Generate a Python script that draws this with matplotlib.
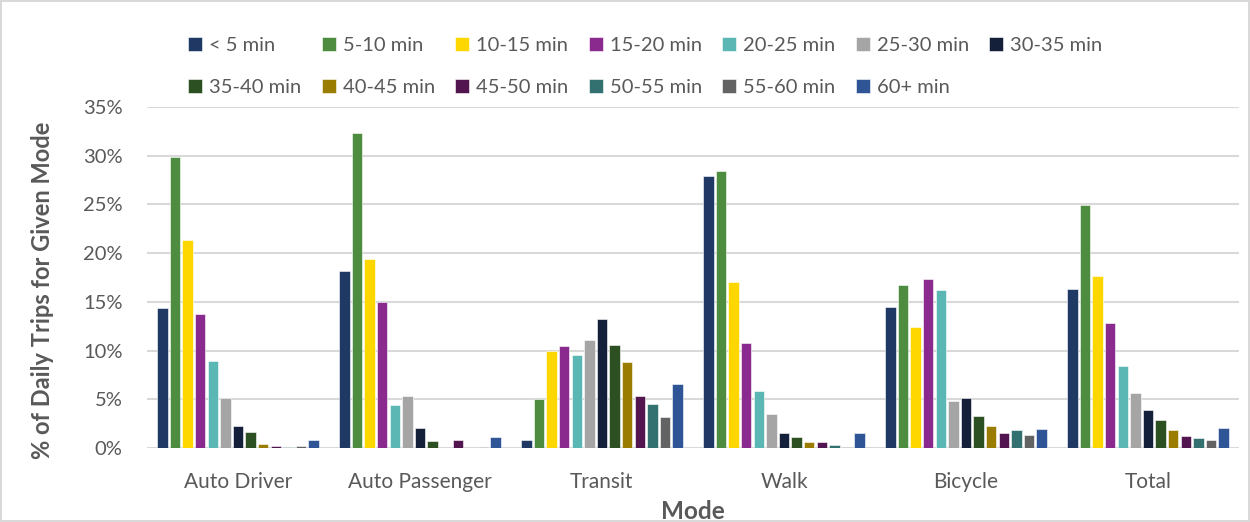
import matplotlib
matplotlib.use("Agg")
import matplotlib.pyplot as plt
import numpy as np
from matplotlib.ticker import PercentFormatter

modes = ["Auto Driver", "Auto Passenger", "Transit", "Walk", "Bicycle", "Total"]
bins = ["< 5 min", "5-10 min", "10-15 min", "15-20 min", "20-25 min", "25-30 min",
        "30-35 min", "35-40 min", "40-45 min", "45-50 min", "50-55 min",
        "55-60 min", "60+ min"]

# share of daily trips (%) per duration bin, one list per mode
auto_driver    = [14.4, 29.9, 21.4, 13.8, 8.9, 5.1, 2.3, 1.6, 0.4, 0.2, 0.1, 0.2, 0.8]
auto_passenger = [18.2, 32.3, 19.4, 15.0, 4.4, 5.3, 2.0, 0.7, 0.0, 0.8, 0.0, 0.1, 1.1]
transit        = [0.8, 5.0, 10.0, 10.5, 9.5, 11.1, 13.2, 10.6, 8.8, 5.3, 4.5, 3.2, 6.6]
walk           = [27.9, 28.4, 17.0, 10.8, 5.8, 3.5, 1.5, 1.1, 0.6, 0.6, 0.3, 0.1, 1.5]
bicycle        = [14.5, 16.7, 12.4, 17.3, 16.2, 4.8, 5.1, 3.3, 2.3, 1.5, 1.8, 1.3, 1.9]
total          = [16.3, 24.9, 17.7, 12.8, 8.4, 5.6, 3.9, 2.9, 1.8, 1.2, 1.0, 0.8, 2.0]

colors = ["#1F3864", "#4E8C3F", "#FFD700", "#8A2A8E", "#5BB7B3", "#A5A5A5",
          "#141F3A", "#2D5023", "#9A7D00", "#521550", "#337170", "#636363", "#2F5597"]

data = np.array([auto_driver, auto_passenger, transit, walk, bicycle, total]) / 100.0

plt.rcParams["font.family"] = ["Lato", "DejaVu Sans"]
text_gray = "#595959"

fig = plt.figure(figsize=(12.5, 5.22), dpi=100)
fig.patch.set_edgecolor("#D9D9D9")
fig.patch.set_linewidth(1.5)
ax = fig.add_axes([0.1176, 0.1418, 0.8736, 0.6532])

x = np.arange(len(modes))
group = 0.9
pitch = group / len(bins)
handles = []
for i, (b, c) in enumerate(zip(bins, colors)):
    offs = -group / 2 + pitch * (i + 0.5)
    h = ax.bar(x + offs, data[:, i], width=pitch * 0.82, color=c,
               edgecolor="white", linewidth=0.4, label=b, zorder=3)
    handles.append(h)

ax.set_xlim(-0.5, len(modes) - 0.5)
ax.set_ylim(0, 0.35)
ax.set_yticks(np.arange(0, 0.351, 0.05))
ax.yaxis.set_major_formatter(PercentFormatter(1.0, decimals=0))
ax.grid(axis="y", color="#D9D9D9", linewidth=1.5, zorder=0)
ax.set_axisbelow(True)
for s in ax.spines.values():
    s.set_visible(False)
ax.tick_params(axis="both", length=0, labelcolor=text_gray)
ax.tick_params(axis="y", pad=17.5, labelsize=14.5)
ax.tick_params(axis="x", pad=17, labelsize=15)
ax.set_xticks(x)
ax.set_xticklabels(modes)

ax.set_xlabel("Mode", fontsize=17.5, fontweight="bold", color=text_gray, labelpad=6)
ax.set_ylabel("% of Daily Trips for Given Mode", fontsize=17, fontweight="bold",
              color=text_gray)
ax.yaxis.set_label_coords(54 / 1250, 1 - 290 / 522, transform=fig.transFigure)

# row-major legend order across 7 columns
order = [0, 7, 1, 8, 2, 9, 3, 10, 4, 11, 5, 12, 6]
fig.legend([handles[k] for k in order], [bins[k] for k in order],
           ncol=7, loc="center left", bbox_to_anchor=(188 / 1250, 1 - 66.5 / 522),
           frameon=False, fontsize=14.5, labelcolor=text_gray, borderpad=0,
           borderaxespad=0, handlelength=0.7, handleheight=0.7, handletextpad=0.35,
           columnspacing=1.0, labelspacing=1.2)

fig.savefig("out.png", dpi=100)
